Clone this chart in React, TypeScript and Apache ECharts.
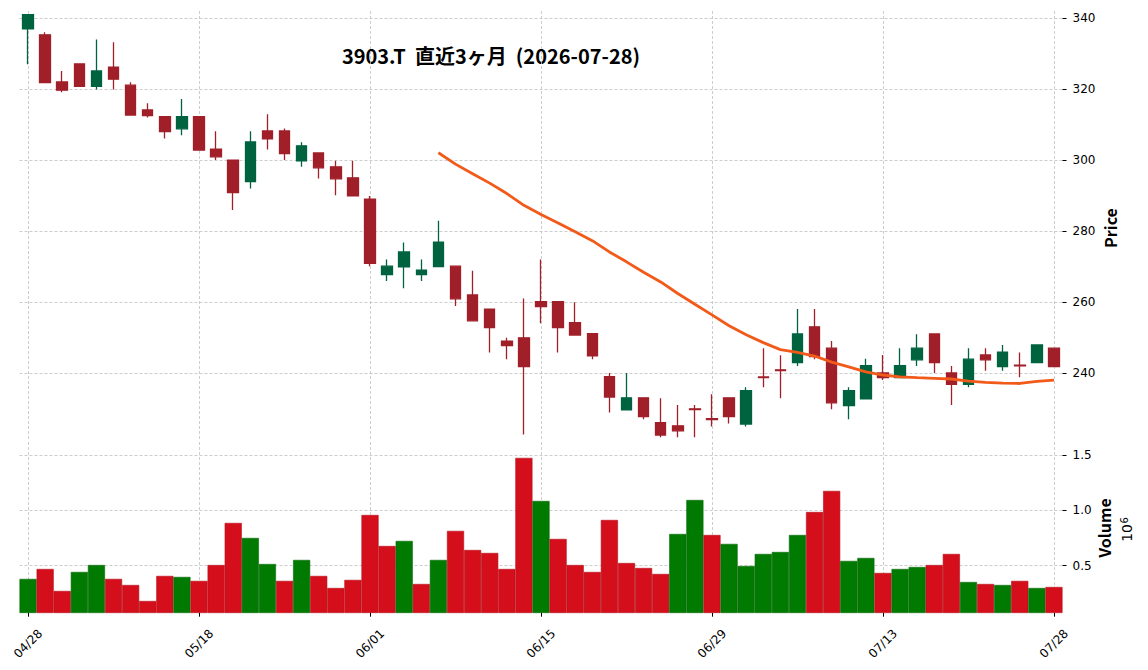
import React, { useEffect, useRef } from 'react';
import * as echarts from 'echarts';

const titleText = '3903.T  直近3ヶ月  (2026-07-28)';
const priceLabel = 'Price';
const volumeLabel = 'Volume';

const dates = [
  '04/28', '04/30', '05/01', '05/07', '05/08', '05/11', '05/12', '05/13', '05/14', '05/15',
  '05/18', '05/19', '05/20', '05/21', '05/22', '05/25', '05/26', '05/27', '05/28', '05/29',
  '06/01', '06/02', '06/03', '06/04', '06/05', '06/08', '06/09', '06/10', '06/11', '06/12',
  '06/15', '06/16', '06/17', '06/18', '06/19', '06/22', '06/23', '06/24', '06/25', '06/26',
  '06/29', '06/30', '07/01', '07/02', '07/03', '07/06', '07/07', '07/08', '07/09', '07/10',
  '07/13', '07/14', '07/15', '07/16', '07/17', '07/21', '07/22', '07/23', '07/24', '07/27',
  '07/28',
];

const opens = [
  337.0, 335.3, 322.0, 327.1, 320.8, 326.2, 321.1, 314.1, 312.2, 308.8,
  312.2, 303.1, 300.0, 293.9, 308.2, 308.2, 299.8, 302.0, 298.1, 295.0,
  289.0, 267.7, 269.9, 267.7, 270.0, 270.1, 262.0, 258.0, 249.0, 249.9,
  260.1, 260.1, 254.2, 251.1, 239.0, 229.6, 233.0, 226.0, 225.1, 229.9,
  227.1, 233.0, 225.6, 238.9, 240.9, 242.9, 253.0, 247.0, 230.8, 232.7,
  240.0, 238.7, 243.7, 251.0, 240.0, 236.8, 245.1, 241.8, 242.2, 242.9,
  247.0,
];

const closes = [
  341.0, 321.8, 319.7, 320.8, 325.1, 322.8, 312.7, 312.5, 308.0, 312.2,
  302.8, 300.9, 290.8, 305.1, 306.0, 301.8, 304.0, 297.8, 294.7, 289.9,
  270.9, 270.1, 274.1, 269.0, 276.9, 260.9, 254.7, 252.8, 247.7, 241.8,
  258.7, 252.8, 250.7, 244.8, 233.2, 233.0, 227.7, 222.5, 223.7, 229.7,
  226.9, 227.7, 235.0, 238.7, 240.7, 251.0, 244.6, 231.6, 235.0, 242.1,
  238.7, 242.1, 247.0, 242.9, 236.8, 243.9, 243.7, 245.9, 242.0, 247.9,
  241.8,
];

const lows = [
  327.0, 321.8, 319.1, 320.8, 319.9, 319.9, 312.7, 312.0, 306.1, 307.0,
  302.8, 300.0, 285.9, 292.0, 303.0, 300.0, 298.1, 294.8, 290.1, 289.9,
  270.1, 265.9, 263.9, 265.9, 270.0, 258.9, 254.7, 245.8, 243.9, 222.7,
  254.0, 245.8, 250.7, 243.9, 228.9, 229.6, 227.0, 221.9, 221.9, 221.9,
  224.9, 225.8, 224.9, 236.0, 232.9, 242.0, 243.9, 229.8, 227.0, 232.7,
  238.0, 238.5, 242.0, 240.0, 231.0, 236.0, 240.6, 240.6, 238.8, 242.9,
  241.8,
];

const highs = [
  341.1, 336.0, 325.1, 327.1, 334.0, 333.2, 321.9, 316.0, 312.2, 317.2,
  312.2, 308.1, 300.0, 308.1, 312.9, 308.9, 305.0, 302.0, 299.8, 299.8,
  289.9, 272.0, 276.8, 272.0, 282.9, 270.1, 268.8, 258.0, 249.9, 261.0,
  272.0, 260.1, 259.9, 251.1, 240.0, 240.0, 233.0, 232.9, 231.0, 231.0,
  234.0, 233.0, 236.0, 247.0, 245.0, 258.0, 258.0, 249.0, 236.0, 244.0,
  245.1, 247.0, 250.9, 251.0, 242.0, 247.0, 247.0, 247.9, 245.8, 247.9,
  247.0,
];

const volumes = [
  380000, 470000, 271000, 443000, 506000, 380000, 325000, 180000, 407000, 398000,
  362000, 506000, 887000, 751000, 515000, 362000, 552000, 407000, 298000, 371000,
  959000, 678000, 724000, 334000, 552000, 815000, 642000, 615000, 470000, 1476000,
  1086000, 742000, 506000, 443000, 914000, 524000, 479000, 425000, 787000, 1095000,
  778000, 697000, 497000, 606000, 624000, 778000, 986000, 1177000, 543000, 570000,
  434000, 470000, 488000, 506000, 606000, 352000, 334000, 325000, 362000, 298000,
  307000,
];

const priceTicks = [240, 260, 280, 300, 320, 340];
const volumeTicks = [500000, 1000000, 1500000];
const maPeriod = 25;

const UP = '#006340';
const DOWN = '#a01f28';
const VUP = '#007a00';
const VDOWN = '#d40f1b';
const MA_COLOR = '#f25a1a';

export default function App() {
  const ref = useRef<HTMLDivElement>(null);

  useEffect(() => {
    if (!ref.current) return;
    const chart = echarts.init(ref.current, undefined, { renderer: 'svg' });

    const candles = dates.map((_, i) => [opens[i], closes[i], lows[i], highs[i]]);
    const ma = closes.map((_, i) => {
      if (i < maPeriod - 1) return null;
      let s = 0;
      for (let k = i - maPeriod + 1; k <= i; k++) s += closes[k];
      return +(s / maPeriod).toFixed(3);
    });
    const volData = volumes.map((v, i) => {
      const up = i === 0 || closes[i] >= closes[i - 1];
      return {
        value: v,
        itemStyle: {
          color: up ? VUP : VDOWN,
          borderColor: up ? '#0a6a0a' : '#b50f19',
          borderWidth: 0.6,
        },
      };
    });

    const gridLine = {
      show: true,
      lineStyle: { color: '#c0c0c0', type: [3, 2] as any, width: 0.8 },
    };
    const tickFont = { fontFamily: 'DejaVu Sans', fontSize: 12, color: '#000' };
    const nameStyle = {
      fontFamily: 'Noto Sans CJK JP',
      fontWeight: 'bold',
      fontSize: 16,
      fill: '#000',
      textAlign: 'center',
      textVerticalAlign: 'middle',
    };

    chart.setOption({
      animation: false,
      backgroundColor: '#ffffff',
      grid: [
        { left: 19.5, width: 1043, top: 11, height: 428 },
        { left: 19.5, width: 1043, top: 442, height: 170.7 },
      ],
      xAxis: [
        {
          type: 'category',
          gridIndex: 0,
          data: dates,
          boundaryGap: true,
          axisLine: { show: false },
          axisTick: { show: false, interval: 9, alignWithLabel: true },
          axisLabel: { show: false, interval: 9 },
          splitLine: { ...gridLine, interval: 9, alignWithLabel: true },
        },
        {
          type: 'category',
          gridIndex: 1,
          data: dates,
          boundaryGap: true,
          axisLine: { show: false },
          axisTick: { show: true, interval: 9, alignWithLabel: true, length: 4, lineStyle: { color: '#000', width: 1 } },
          axisLabel: {
            ...tickFont,
            interval: 9,
            rotate: 45,
            align: 'center',
            verticalAlign: 'middle',
            margin: 31,
          },
          splitLine: { ...gridLine, interval: 9, alignWithLabel: true },
        },
      ],
      yAxis: [
        {
          type: 'value',
          gridIndex: 0,
          position: 'right',
          min: 221.4,
          max: 342,
          axisLine: { show: false },
          axisTick: { show: true, length: 4, customValues: priceTicks, lineStyle: { color: '#000', width: 1 } },
          axisLabel: { ...tickFont, customValues: priceTicks, margin: 10 },
          splitLine: gridLine,
        },
        {
          type: 'value',
          gridIndex: 1,
          position: 'right',
          min: 74000,
          max: 1620000,
          axisLine: { show: false },
          axisTick: { show: true, length: 4, customValues: volumeTicks, lineStyle: { color: '#000', width: 1 } },
          axisLabel: {
            ...tickFont,
            customValues: volumeTicks,
            margin: 10,
            formatter: (v: number) => (v / 1e6).toFixed(1),
          },
          splitLine: gridLine,
        },
      ],
      series: [
        {
          type: 'candlestick',
          xAxisIndex: 0,
          yAxisIndex: 0,
          data: candles,
          barWidth: 11,
          itemStyle: {
            color: UP,
            color0: DOWN,
            borderColor: UP,
            borderColor0: DOWN,
            borderWidth: 1.3,
          },
          z: 2,
        },
        {
          type: 'line',
          xAxisIndex: 0,
          yAxisIndex: 0,
          data: ma,
          symbol: 'none',
          showSymbol: false,
          connectNulls: false,
          lineStyle: { color: MA_COLOR, width: 2.8 },
          z: 3,
        },
        {
          type: 'bar',
          xAxisIndex: 1,
          yAxisIndex: 1,
          data: volData,
          barWidth: '100%',
          barCategoryGap: 0,
        },
      ],
      graphic: [
        {
          type: 'text',
          x: 491,
          y: 55,
          style: {
            text: titleText,
            fontFamily: 'Noto Sans CJK JP',
            fontWeight: 'bold',
            fontSize: 20,
            fill: '#000',
            textAlign: 'center',
            textVerticalAlign: 'middle',
          },
        },
        {
          type: 'text',
          x: 1110,
          y: 228,
          rotation: Math.PI / 2,
          style: { ...nameStyle, text: priceLabel },
        },
        {
          type: 'text',
          x: 1104,
          y: 528,
          rotation: Math.PI / 2,
          style: { ...nameStyle, text: volumeLabel },
        },
        {
          type: 'group',
          x: 1127,
          y: 526,
          rotation: Math.PI / 2,
          children: [
            {
              type: 'text',
              x: 2,
              y: 0,
              style: {
                text: '10',
                fontFamily: 'DejaVu Sans',
                fontSize: 14,
                fill: '#000',
                textAlign: 'right',
                textVerticalAlign: 'middle',
              },
            },
            {
              type: 'text',
              x: 2.5,
              y: -3,
              style: {
                text: '6',
                fontFamily: 'DejaVu Sans',
                fontSize: 10,
                fill: '#000',
                textAlign: 'left',
                textVerticalAlign: 'middle',
              },
            },
          ],
        },
      ],
    });

    return () => chart.dispose();
  }, []);

  return (
    <div
      ref={ref}
      style={{ position: 'absolute', left: 0, top: 0, width: 1148, height: 670 }}
    />
  );
}
